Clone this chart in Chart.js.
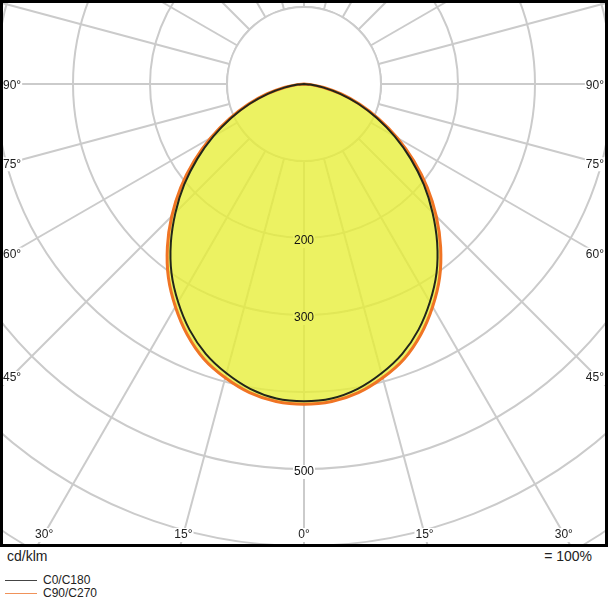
<!DOCTYPE html>
<html>
<head>
<meta charset="utf-8">
<script src="https://cdn.jsdelivr.net/npm/chart.js@4.4.1/dist/chart.umd.min.js"></script>
<style>
  body { margin: 0; background: #fff; font-family: "Liberation Sans", Arial, sans-serif; color: #222; }
  #frame { position: absolute; left: 0; top: 0; width: 608px; height: 547px; border: 3px solid #000; box-sizing: border-box; overflow: hidden; }
  #frame canvas { position: absolute; left: -315px; top: -535px; }
  .note { position: absolute; top: 547px; font-size: 14px; line-height: 18px; }
  .legend { position: absolute; left: 5px; font-size: 12px; line-height: 14px; }
  .legend span { display: inline-block; width: 32px; height: 0; border-top: 1px solid; vertical-align: middle; margin-right: 6px; }
</style>
</head>
<body>
<div id="frame"><canvas id="ldc" width="1232" height="1232"></canvas></div>
<div class="note" style="left:7px">cd/klm</div>
<div class="note" style="left:492px;width:100px;text-align:right">= 100%</div>
<div class="legend" style="top:573px"><span style="border-color:#444"></span>C0/C180</div>
<div class="legend" style="top:586px"><span style="border-color:#f0925a"></span>C90/C270</div>

<script>
// --- DATA (cd/klm, gamma 0..180 in 5 deg steps) ---
const gammaDeg = [0, 5, 10, 15, 20, 25, 30, 35, 40, 45, 50, 55, 60, 65, 70, 75, 80, 85, 90,
                  95, 100, 105, 110, 115, 120, 125, 130, 135, 140, 145, 150, 155, 160, 165, 170, 175, 180];
const c0c180 = [412, 410, 402, 389, 373, 352, 327, 300, 269, 236, 203, 169, 136, 104, 75, 48, 25, 8, 0,
                0, 0, 0, 0, 0, 0, 0, 0, 0, 0, 0, 0, 0, 0, 0, 0, 0, 0];
const c90c270 = [416, 414, 407, 395, 380, 359, 334, 307, 276, 243, 209, 174, 140, 107, 77, 50, 26, 9, 0,
                 0, 0, 0, 0, 0, 0, 0, 0, 0, 0, 0, 0, 0, 0, 0, 0, 0, 0];
const valueLabels = [200, 300, 500];
const sideAngleLabels = [90, 75, 60, 45];
const bottomAngleLabels = [0, 15, 30];

const scaleMax = 800;
const innerRing = 100;
const gridColor = '#cbcbcb';
const labelFont = '12px "Liberation Sans", Arial, sans-serif';

// left half goes bottom -> top (C180 / C270), right half top -> bottom (C0 / C90)
function mirror(half) {
    const full = half.slice();
    for (let i = half.length; i < 2 * (half.length - 1); i++) {
        full.push(half[2 * (half.length - 1) - i]);
    }
    return full;
}
const labels = mirror(gammaDeg).map(g => g + '°');

function drawTag(ctx, text, x, y, align) {
    const w = ctx.measureText(text).width;
    let left = x - w / 2;
    if (align === 'left') left = x;
    if (align === 'right') left = x - w;
    ctx.fillStyle = '#fff';
    ctx.fillRect(left - 1, y - 7, w + 2, 14);
    ctx.fillStyle = '#222';
    ctx.textAlign = align;
    ctx.fillText(text, x, y);
}

const polarExtras = {
    id: 'polarExtras',
    beforeDatasetsDraw(chart) {
        const r = chart.scales.r;
        const ctx = chart.ctx;
        const r100 = r.getDistanceFromCenterForValue(innerRing);
        ctx.save();
        // no rays inside the first ring
        ctx.fillStyle = '#fff';
        ctx.beginPath();
        ctx.arc(r.xCenter, r.yCenter, r100, 0, Math.PI * 2);
        ctx.fill();
        ctx.strokeStyle = gridColor;
        ctx.lineWidth = 2;
        ctx.stroke();
        // backdrops under the ring values (get tinted by the fill)
        ctx.font = labelFont;
        valueLabels.forEach(v => {
            const d = r.getDistanceFromCenterForValue(v);
            const w = ctx.measureText(String(v)).width;
            ctx.fillRect(r.xCenter - w / 2 - 1, r.yCenter + d - 4, w + 2, 14);
        });
        ctx.restore();
    },
    afterDatasetsDraw(chart) {
        const r = chart.scales.r;
        const ctx = chart.ctx;
        ctx.save();
        ctx.font = labelFont;
        ctx.textBaseline = 'middle';
        ctx.fillStyle = '#111';
        ctx.textAlign = 'center';
        valueLabels.forEach(v => {
            const d = r.getDistanceFromCenterForValue(v);
            ctx.fillText(String(v), r.xCenter, r.yCenter + d + 3);
        });
        // angle labels where the rays leave the frame
        sideAngleLabels.forEach(a => {
            const t = a * Math.PI / 180;
            const y = r.yCenter + 2 + (a === 90 ? 0 : 292 / Math.tan(t));
            drawTag(ctx, a + '°', r.xCenter - 301, y, 'left');
            drawTag(ctx, a + '°', r.xCenter + 300, y, 'right');
        });
        bottomAngleLabels.forEach(a => {
            const dx = 450 * Math.tan(a * Math.PI / 180);
            drawTag(ctx, a + '°', r.xCenter - dx, r.yCenter + 451, 'center');
            if (a > 0) drawTag(ctx, a + '°', r.xCenter + dx, r.yCenter + 451, 'center');
        });
        ctx.restore();
    }
};

new Chart(document.getElementById('ldc'), {
    type: 'radar',
    data: {
        labels: labels,
        datasets: [
            {
                label: 'C0/C180',
                data: mirror(c0c180),
                borderColor: '#22261a',
                borderWidth: 2,
                fill: false,
                pointRadius: 0,
                borderJoinStyle: 'round'
            },
            {
                label: 'C90/C270',
                data: mirror(c90c270),
                borderColor: '#f07424',
                backgroundColor: 'rgba(231, 238, 54, 0.78)',
                borderWidth: 3,
                fill: true,
                pointRadius: 0,
                borderJoinStyle: 'round'
            }
        ]
    },
    options: {
        responsive: false,
        animation: false,
        devicePixelRatio: 1,
        layout: { padding: 0 },
        elements: { line: { tension: 0.3 } },
        plugins: { legend: { display: false }, tooltip: { enabled: false } },
        scales: {
            r: {
                min: 0,
                max: scaleMax,
                startAngle: 180,
                ticks: { display: false, stepSize: 100 },
                pointLabels: { display: false },
                grid: { circular: true, color: gridColor, lineWidth: 2 },
                angleLines: {
                    color: gridColor,
                    lineWidth: ctx => (ctx.index % 3 === 0 ? 2 : 0)
                }
            }
        }
    },
    plugins: [polarExtras]
});
</script>
</body>
</html>
